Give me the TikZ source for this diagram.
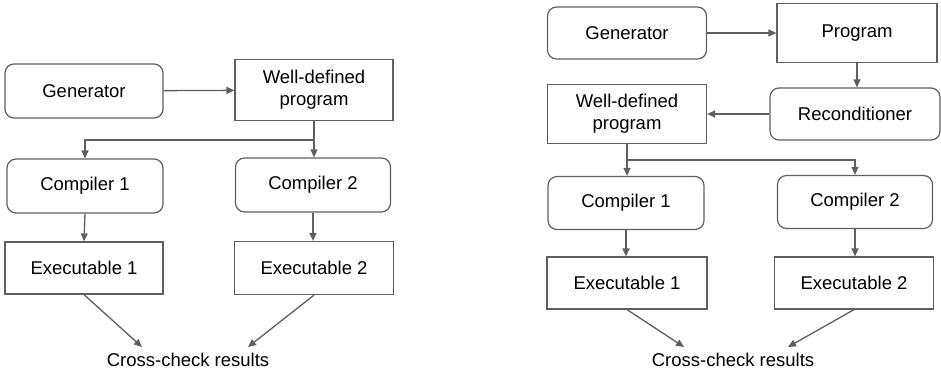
\documentclass[tikz,border=0pt]{standalone}
\usepackage{fontspec}
\setmainfont{Liberation Sans}
\usetikzlibrary{arrows.meta}

\definecolor{linegray}{HTML}{5F5F5F}
\tikzset{
	box/.style={draw=linegray, line width=1.2pt, minimum width=158pt, minimum height=53pt,
		align=center, inner sep=2pt, font=\fontsize{18.5}{22}\selectfont},
	rbox/.style={box, rounded corners=9pt},
	label/.style={inner sep=0pt, font=\fontsize{18.5}{22}\selectfont},
	arr/.style={draw=linegray, line width=1.3pt, -{Triangle[length=8pt,width=7pt]}},
}

\begin{document}
\begin{tikzpicture}[x=1pt, y=-1pt]
	\useasboundingbox (0, 0) rectangle (941, 373);

	% left: generator only
	\node[rbox, minimum height=54pt] (genL) at (84, 91) {Generator};
	\node[box, minimum height=61pt] (wdpL) at (314, 90) {Well-defined\\program};
	\node[rbox, minimum width=156pt, minimum height=54pt] (cmpL1) at (85, 186) {Compiler 1};
	\node[rbox, minimum width=155pt, minimum height=54pt] (cmpL2) at (313, 185) {Compiler 2};
	\node[box, minimum height=52pt] (exeL1) at (84, 268) {Executable 1};
	\node[box, minimum width=159pt] (exeL2) at (314, 268) {Executable 2};
	\node[label] (crossL) at (188, 360) {Cross-check results};
	\coordinate (inL1) at (142, 347);
	\coordinate (inL2) at (248, 347);

	\draw[arr] (genL) -- (wdpL);
	\draw[arr] (wdpL.south) -- ++(0, 19) -| (cmpL1.north);
	\draw[arr] (wdpL.south) -- (wdpL.south |- cmpL2.north);
	\draw[arr] (cmpL1.south) -- (exeL1.north);
	\draw[arr] (cmpL2.south) -- (cmpL2.south |- exeL2.north);
	\draw[arr] (exeL1.south) -- (inL1);
	\draw[arr] (exeL2.south) -- (inL2);

	% right: generator and reconditioner
	\node[rbox, minimum width=159pt, minimum height=52pt] (genR) at (627, 33) {Generator};
	\node[box, minimum width=160pt, minimum height=59pt] (prgR) at (857, 33) {Program};
	\node[rbox, minimum width=170pt, minimum height=52pt] (recR) at (855, 114) {Reconditioner};
	\node[box, minimum width=159pt, minimum height=59pt] (wdpR) at (627, 114) {Well-defined\\program};
	\node[rbox, minimum width=156pt] (cmpR1) at (626, 203) {Compiler 1};
	\node[rbox, minimum width=155pt] (cmpR2) at (855, 202) {Compiler 2};
	\node[box, minimum width=160pt, minimum height=52pt] (exeR1) at (627, 283) {Executable 1};
	\node[box, minimum width=159pt, minimum height=52pt] (exeR2) at (854, 283) {Executable 2};
	\node[label] (crossR) at (733, 360) {Cross-check results};
	\coordinate (inR1) at (684, 347);
	\coordinate (inR2) at (788, 347);

	\draw[arr] (genR) -- (prgR);
	\draw[arr] (prgR.south) -- (prgR.south |- recR.north);
	\draw[arr] (recR) -- (wdpR);
	\draw[arr] (wdpR.south) -- (wdpR.south |- cmpR1.north);
	\draw[arr] (wdpR.south) -- ++(0, 16) -| (cmpR2.north);
	\draw[arr] (cmpR1.south) -- (cmpR1.south |- exeR1.north);
	\draw[arr] (cmpR2.south) -- (cmpR2.south |- exeR2.north);
	\draw[arr] (exeR1.south) -- (inR1);
	\draw[arr] (exeR2.south) -- (inR2);
\end{tikzpicture}
\end{document}
